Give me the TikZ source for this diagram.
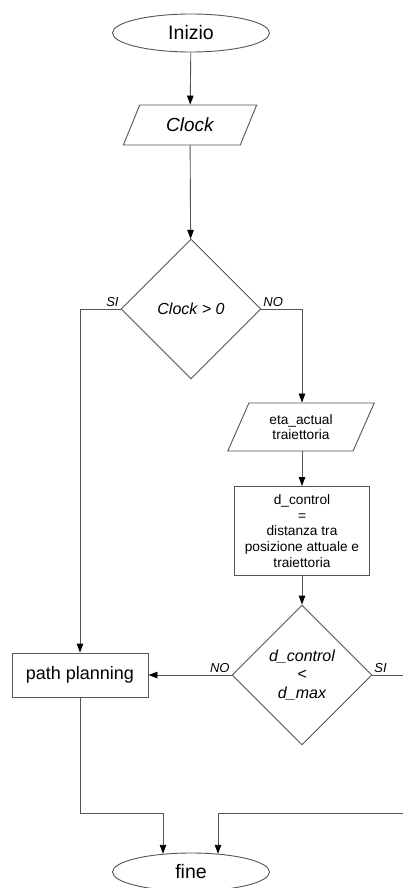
\documentclass[tikz,border=0pt]{standalone}
\usepackage{fontspec}
\setmainfont{Liberation Sans}
\usetikzlibrary{positioning,arrows.meta,shapes.geometric,calc}
\definecolor{edge}{HTML}{555555}

\begin{document}
\begin{tikzpicture}[x=1pt, y=-1pt, line width=0.9pt,
  term/.style={ellipse, draw=edge, minimum width=157pt, minimum height=38pt,
               inner sep=0pt, font=\fontsize{19.5}{22}\selectfont},
  io/.style={trapezium, trapezium left angle=61, trapezium right angle=119,
             trapezium stretches=true, draw=edge, inner sep=0pt, align=center},
  proc/.style={rectangle, draw=edge, inner sep=0pt, align=center},
  dec/.style={diamond, draw=edge, minimum width=140pt, minimum height=140pt,
              inner sep=0pt, align=center, font=\fontsize{16}{18.5}\selectfont\itshape},
  lab/.style={font=\fontsize{13}{15}\selectfont\itshape, inner sep=1.5pt},
  arr/.style={draw=edge, -{Triangle[length=9pt,width=6.5pt,color=black]}},
  wire/.style={draw=edge},
]
\useasboundingbox (0,0) rectangle (402,888);
% ---------- left column ----------
\node[term] (start) at (191,33) {Inizio};
\node[io, minimum width=134pt, minimum height=40pt,
      font=\fontsize{19}{22}\selectfont\itshape] (clk) at (190,125) {Clock};
\node[dec] (chk) at (191,309) {Clock > 0};
\node[proc, minimum width=136pt, minimum height=44pt,
      font=\fontsize{18}{21}\selectfont] (plan) at (80,675) {path planning};
% ---------- right column ----------
\node[io, minimum width=147pt, minimum height=48pt, trapezium left angle=63,
      trapezium right angle=117, font=\fontsize{13.7}{15.2}\selectfont] (eta) at (301,427)
      {eta\_actual\\traiettoria};
\node[proc, minimum width=135pt, minimum height=89pt,
      font=\fontsize{13.7}{15.7}\selectfont] (dist) at (302,531)
      {d\_control\\=\\distanza tra\\posizione attuale e\\traiettoria};
\node[dec] (cmp) at (302,675) {d\_control\\<\\d\_max};
% ---------- end ----------
\node[term] (stop) at (191,872) {fine};

\coordinate (jl) at (163,813);
\coordinate (jr) at (218,813);
\coordinate (rgt) at (403,675);

\draw[arr] (start) -- (clk);
\draw[arr] (clk) -- (chk);
\draw[arr] (chk.west) -| (plan.north);
\draw[arr] (chk.east) -| (eta.north -| dist.north);
\draw[arr] (eta.south -| dist.north) -- (dist);
\draw[arr] (dist) -- (cmp);
\draw[arr] (cmp.west) -- (plan.east);
\draw[arr] (plan.south) |- (jl) -- (jl |- stop.147.6);
\draw[arr] (cmp.east) -- (rgt) |- (jr) -- (jr |- stop.33.5);

\node[lab, anchor=south east] at (chk.west) {SI};
\node[lab, anchor=south west] at (chk.east) {NO};
\node[lab, anchor=south east] at (cmp.west) {NO};
\node[lab, anchor=south west] at (cmp.east) {SI};
\end{tikzpicture}
\end{document}
